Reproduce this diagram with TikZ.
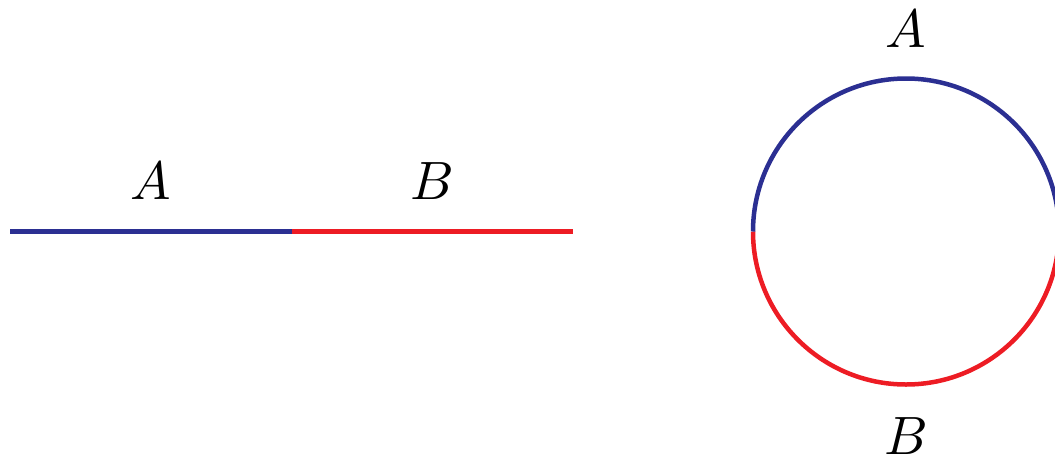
\documentclass[tikz,border=0pt]{standalone}
\usepackage{graphicx}
\definecolor{myblue}{RGB}{43,47,146}
\definecolor{myred}{RGB}{237,28,36}
\newcommand{\biglbl}[1]{\scalebox{5.4}{$#1$}}
\begin{document}
\begin{tikzpicture}[x=1pt,y=-1pt,
  seg/.style={line width=4.5pt},
  lbl/.style={inner sep=0pt}]
\useasboundingbox (0,0) rectangle (1055,456);
\coordinate (L0) at (10,231.5);
\coordinate (L1) at (292,231.5);
\coordinate (L2) at (573,231.5);
\draw[seg,myblue] (L0) -- (L1);
\draw[seg,myred] (L1) -- (L2);
\node[lbl] (la) at (151,181) {\biglbl{A}};
\node[lbl] (lb) at (432,181) {\biglbl{B}};
\coordinate (C) at (906,231.5);
\draw[seg,myred] (C) ++(180:153) arc[start angle=180,end angle=0,radius=153];
\draw[seg,myblue] (C) ++(180:153) arc[start angle=180,end angle=360,radius=153];
\node[lbl] (ca) at (906,29.5) {\biglbl{A}};
\node[lbl] (cb) at (906,436.5) {\biglbl{B}};
\end{tikzpicture}
\end{document}
